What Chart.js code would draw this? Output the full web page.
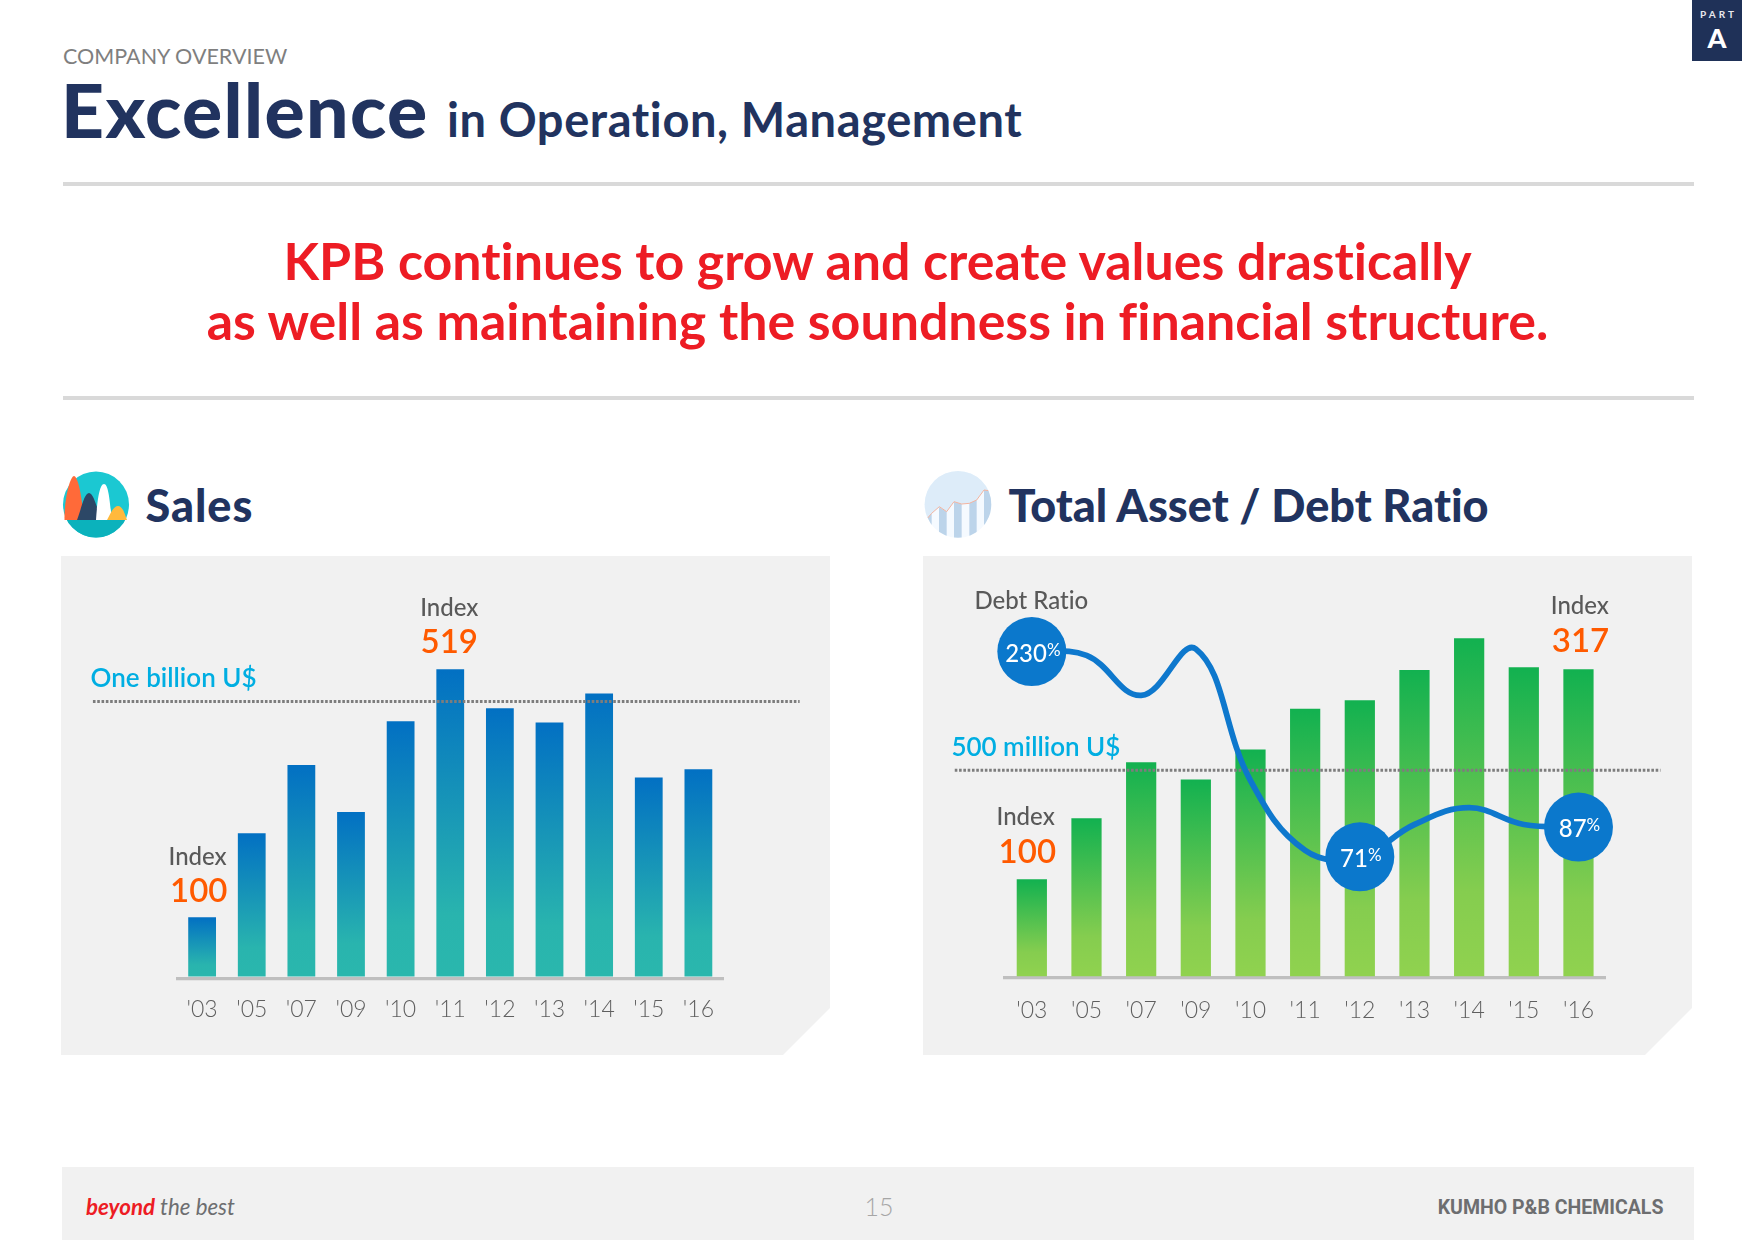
<!DOCTYPE html>
<html><head><meta charset="utf-8">
<script src="https://cdn.jsdelivr.net/npm/chart.js@4/dist/chart.umd.min.js"></script>
<style>
html,body{margin:0;padding:0;background:#fff;width:1754px;height:1240px;overflow:hidden;font-family:Lato,"Noto Sans",sans-serif;font-variant-ligatures:none}
.a{position:absolute;white-space:nowrap;line-height:1}
.panel{position:absolute;top:556px;width:769px;height:499px;background:#f1f1f1;clip-path:polygon(0 0,100% 0,100% 452px,722px 100%,0 100%)}
canvas{position:absolute;top:556px}
.rule{position:absolute;left:63px;width:1631px;height:4px;background:#d9d9d9}
</style></head><body>
<div class="a" style="left:63px;top:45.6px;font-size:21.5px;color:#7f7f7f">COMPANY OVERVIEW</div>
<div class="a" style="left:61px;top:71.5px;font-size:75px;font-weight:900;letter-spacing:1.4px;color:#21335f">Excellence</div>
<div class="a" style="left:447px;top:96.3px;font-size:47px;font-weight:700;letter-spacing:.6px;color:#21335f">in Operation, Management</div>
<div style="position:absolute;left:1692px;top:0;width:50px;height:61px;background:#1f3158;color:#fff;text-align:center">
 <div class="a" style="position:absolute;left:1.5px;width:50px;top:9px;font-size:10px;font-weight:700;letter-spacing:3px;color:#e8e8ee">PART</div>
 <div class="a" style="position:absolute;left:0;width:50px;top:23.8px;font-size:27px;font-weight:900">A</div>
</div>
<div class="rule" style="top:182px"></div>
<div class="a" style="left:0;width:1755px;text-align:center;top:235px;font-size:51.9px;font-weight:700;color:#ed1c24">KPB continues to grow and create values drastically</div>
<div class="a" style="left:0;width:1755px;text-align:center;top:295px;font-size:51.9px;font-weight:700;color:#ed1c24">as well as maintaining the soundness in financial structure.</div>
<div class="rule" style="top:396px"></div>

<svg class="a" style="left:50px;top:460px" width="100" height="100" viewBox="0 0 100 100">
 <defs><clipPath id="c1"><circle cx="46" cy="44.5" r="33"/></clipPath></defs>
 <circle cx="46" cy="44.5" r="33" fill="#1bc8d2"/>
 <g clip-path="url(#c1)"><rect x="0" y="60" width="100" height="30" fill="#0bb2bc"/></g>
 <path d="M14.5 60C14 40 20 16 24 16S33 40 33 60Z" fill="#ff6a39"/>
 <path d="M27 60C31 50 34 33 39 33S47 50 52 60Z" fill="#2c4766"/>
 <path d="M46 60C47 45 49 24 54 24S60 45 62 60Z" fill="#fff"/>
 <path d="M57 60C60 55 63 46 68 46S75 55 77 60Z" fill="#ffb93c"/>
</svg>
<div class="a" style="left:145.4px;top:482.7px;font-size:45px;font-weight:900;letter-spacing:1px;color:#21335f">Sales</div>

<svg class="a" style="left:920px;top:460px" width="100" height="100" viewBox="0 0 300 300">
 <defs><clipPath id="c2"><circle cx="114" cy="133" r="100"/></clipPath></defs>
 <g clip-path="url(#c2)">
 <rect width="300" height="300" fill="#f5faff"/>
 <path d="M0 0H300V92L206 92 192 90 170 120 148 130 125 132 102 125 80 155 58 140 35 160 22 175 0 190Z" fill="#ddecf9"/>
 <path d="M22 175L35 160V300H22ZM57 141L80 155V300H57ZM102 125L125 132V300H102ZM148 130L170 120V300H148ZM192 90L215 92V300H192Z" fill="#bcd4ea"/>
 <path d="M22 175L35 160 58 140 80 155 102 125 125 132 148 130 170 120 192 90 206 92" fill="none" stroke="#f2b4a0" stroke-width="3"/>
 </g>
</svg>
<div class="a" style="left:1008.4px;top:482.7px;font-size:45px;font-weight:900;color:#21335f">Total Asset / Debt Ratio</div>

<div class="panel" style="left:61px"></div>
<div class="panel" style="left:923px"></div>
<canvas id="sales" style="left:61px"></canvas>
<canvas id="asset" style="left:923px"></canvas>

<div style="position:absolute;left:62px;top:1167px;width:1632px;height:73px;background:#f1f1f1"></div>
<div class="a" style="left:86px;top:1196px;font-size:22.3px;font-style:italic;color:#6d6e70"><span style="color:#ed1c24;font-weight:700">beyond</span> the best</div>
<div class="a" style="left:0;width:1758px;text-align:center;top:1194px;font-size:25px;font-weight:300;color:#a6a6a6">15</div>
<div class="a" style="right:90.6px;top:1198px;font-size:19.5px;font-weight:700;color:#6d6e70;font-family:Roboto">KUMHO P&amp;B CHEMICALS</div>

<script>
const years = ["'03","'05","'07","'09","'10","'11","'12","'13","'14","'15","'16"];
const salesIndex = [100,242,357,278,431,519,453,429,478,336,350];
const assetIndex = [100,163,221,203,234,276,285,316,349,319,317];
const debtRatio  = [230,227,196,232,130,76,71,96,109,96,94];
const debtMarkerRadius = [34.5,0,0,0,0,0,34.5,0,0,0,34.5];
const debtMarkerText = {0:"230",6:"71",10:"87"};
const salesRefX = [-1.70,12.54];
const salesRefY = [464.5,464.5];
const assetRefX = [-0.91,12.0];
const assetRefY = [212.7,212.7];

const FONT = 'Lato';
function gradient(stops,fallback){
  return c => {
    const sc = c.chart.scales.y;
    if(!sc || c.raw===undefined) return fallback;
    const top = sc.getPixelForValue(c.raw), base = sc.getPixelForValue(0);
    if(!isFinite(top) || !isFinite(base)) return fallback;
    const g = c.chart.ctx.createLinearGradient(0,top,0,base);
    stops.forEach(s=>g.addColorStop(s[0],s[1]));
    return g;
  };
}
function txt(c,s,x,y,font,color,align){
  c.font=font;c.fillStyle=color;c.textAlign=align||'center';c.textBaseline='alphabetic';c.fillText(s,x,y);
}
function xScale(h,pad){
  return {type:'category',position:'bottom',
    grid:{display:false,drawTicks:false},
    border:{display:true,color:'#bfbfbf',width:3.3},
    ticks:{color:'#5f5f5f',font:{family:FONT,size:23,weight:300},padding:pad,maxRotation:0,autoSkip:false},
    afterFit:s=>{s.height=h;}};
}
function refDs(xs,ys){
  return {type:'line',xAxisID:'xRef',yAxisID:'y',data:xs.map((x,i)=>({x,y:ys[i]})),
    borderColor:'#7d7d7d',borderWidth:3,borderDash:[2.6,1.7],pointRadius:0,clip:false,order:1,tension:0};
}
const base = {responsive:false,animation:false,devicePixelRatio:1,
  plugins:{legend:{display:false},tooltip:{enabled:false}}};

const c1=document.getElementById('sales');c1.width=769;c1.height=499;
new Chart(c1,{
  type:'bar',
  data:{labels:years,datasets:[
    {type:'bar',data:salesIndex,xAxisID:'x',yAxisID:'y',grouped:false,barPercentage:0.56,categoryPercentage:1,order:2,
     backgroundColor:gradient([[0,'#0270c3'],[0.8,'#29b4ae'],[1,'#2ab7ad']],'#0270c3')},
    refDs(salesRefX,salesRefY)
  ]},
  options:{...base,
    layout:{autoPadding:false,padding:{left:116.3,right:106.8,top:0,bottom:0}},
    scales:{x:xScale(76.75,17.5),
      xRef:{type:'linear',display:false,offset:false,min:0,max:11},
      y:{display:false,min:-2.79,max:710}}
  },
  plugins:[{id:'notes',afterDatasetsDraw(ch){
    const c=ch.ctx,x=ch.scales.x,y=ch.scales.y;c.save();
    const hi=salesIndex.indexOf(Math.max(...salesIndex));
    const idx=`500 24px ${FONT}`,num=`600 33px ${FONT}`;
    txt(c,'Index',x.getPixelForValue(hi)-1,y.getPixelForValue(salesIndex[hi])-53,idx,'#595959');
    txt(c,String(salesIndex[hi]),x.getPixelForValue(hi)-1,y.getPixelForValue(salesIndex[hi])-16.3,num,'#ff5a00');
    txt(c,'Index',x.getPixelForValue(0)-4.5,y.getPixelForValue(salesIndex[0])-52,idx,'#595959');
    txt(c,String(salesIndex[0]),x.getPixelForValue(0)-3.4,y.getPixelForValue(salesIndex[0])-15.3,num,'#ff5a00');
    txt(c,'One billion U$',29.6,y.getPixelForValue(salesRefY[0])-14,`600 26px ${FONT}`,'#00aee2','left');
    c.restore();
  }}]
});

const c2=document.getElementById('asset');c2.width=769;c2.height=499;
new Chart(c2,{
  type:'bar',
  data:{labels:years,datasets:[
    {type:'bar',data:assetIndex,xAxisID:'x',yAxisID:'y',grouped:false,barPercentage:0.553,categoryPercentage:1,order:3,
     backgroundColor:gradient([[0,'#12b150'],[0.75,'#85cd4f'],[1,'#90d24f']],'#12b150')},
    refDs(assetRefX,assetRefY),
    {type:'line',data:debtRatio,xAxisID:'x',yAxisID:'y2',order:0,clip:false,
     borderColor:'#0e78cd',borderWidth:5.8,tension:0.4,
     pointRadius:debtMarkerRadius,pointBackgroundColor:'#0b78cc',pointBorderWidth:0}
  ]},
  options:{...base,
    layout:{autoPadding:false,padding:{left:81.5,right:86.2,top:0,bottom:0}},
    scales:{x:xScale(77.15,18.5),
      xRef:{type:'linear',display:false,offset:false,min:0,max:11},
      y:{display:false,min:-1.71,max:433.8},
      y2:{display:false,min:-22.8,max:304}}
  },
  plugins:[{id:'notes',afterDatasetsDraw(ch){
    const c=ch.ctx,x=ch.scales.x,y=ch.scales.y,y2=ch.scales.y2;c.save();
    const last=assetIndex.length-1;
    const idx=`500 24px ${FONT}`,num=`600 33px ${FONT}`;
    txt(c,'Index',x.getPixelForValue(0)-6.2,y.getPixelForValue(assetIndex[0])-54,idx,'#595959');
    txt(c,String(assetIndex[0]),x.getPixelForValue(0)-4.5,y.getPixelForValue(assetIndex[0])-16.7,num,'#ff5a00');
    txt(c,'Index',x.getPixelForValue(last)+1.4,y.getPixelForValue(assetIndex[last])-54.8,idx,'#595959');
    txt(c,String(assetIndex[last]),x.getPixelForValue(last)+2,y.getPixelForValue(assetIndex[last])-17.5,num,'#ff5a00');
    txt(c,'Debt Ratio',x.getPixelForValue(0)-.5,y2.getPixelForValue(debtRatio[0])-43,idx,'#595959');
    txt(c,'500 million U$',28.4,y.getPixelForValue(assetRefY[0])-14,`600 26px ${FONT}`,'#00aee2','left');
    Object.entries(debtMarkerText).forEach(([i,s])=>{
      const px=x.getPixelForValue(+i),py=y2.getPixelForValue(debtRatio[i])+10.4;
      c.font=`500 24px ${FONT}`;const w=c.measureText(s).width;
      c.font=`400 17px ${FONT}`;const p=c.measureText('%').width;
      const lx=px-(w+p)/2+1;
      txt(c,s,lx,py,`500 24px ${FONT}`,'#fff','left');
      txt(c,'%',lx+w,py-6,`400 17px ${FONT}`,'#fff','left');
    });
    c.restore();
  }}]
});
</script>
</body></html>
